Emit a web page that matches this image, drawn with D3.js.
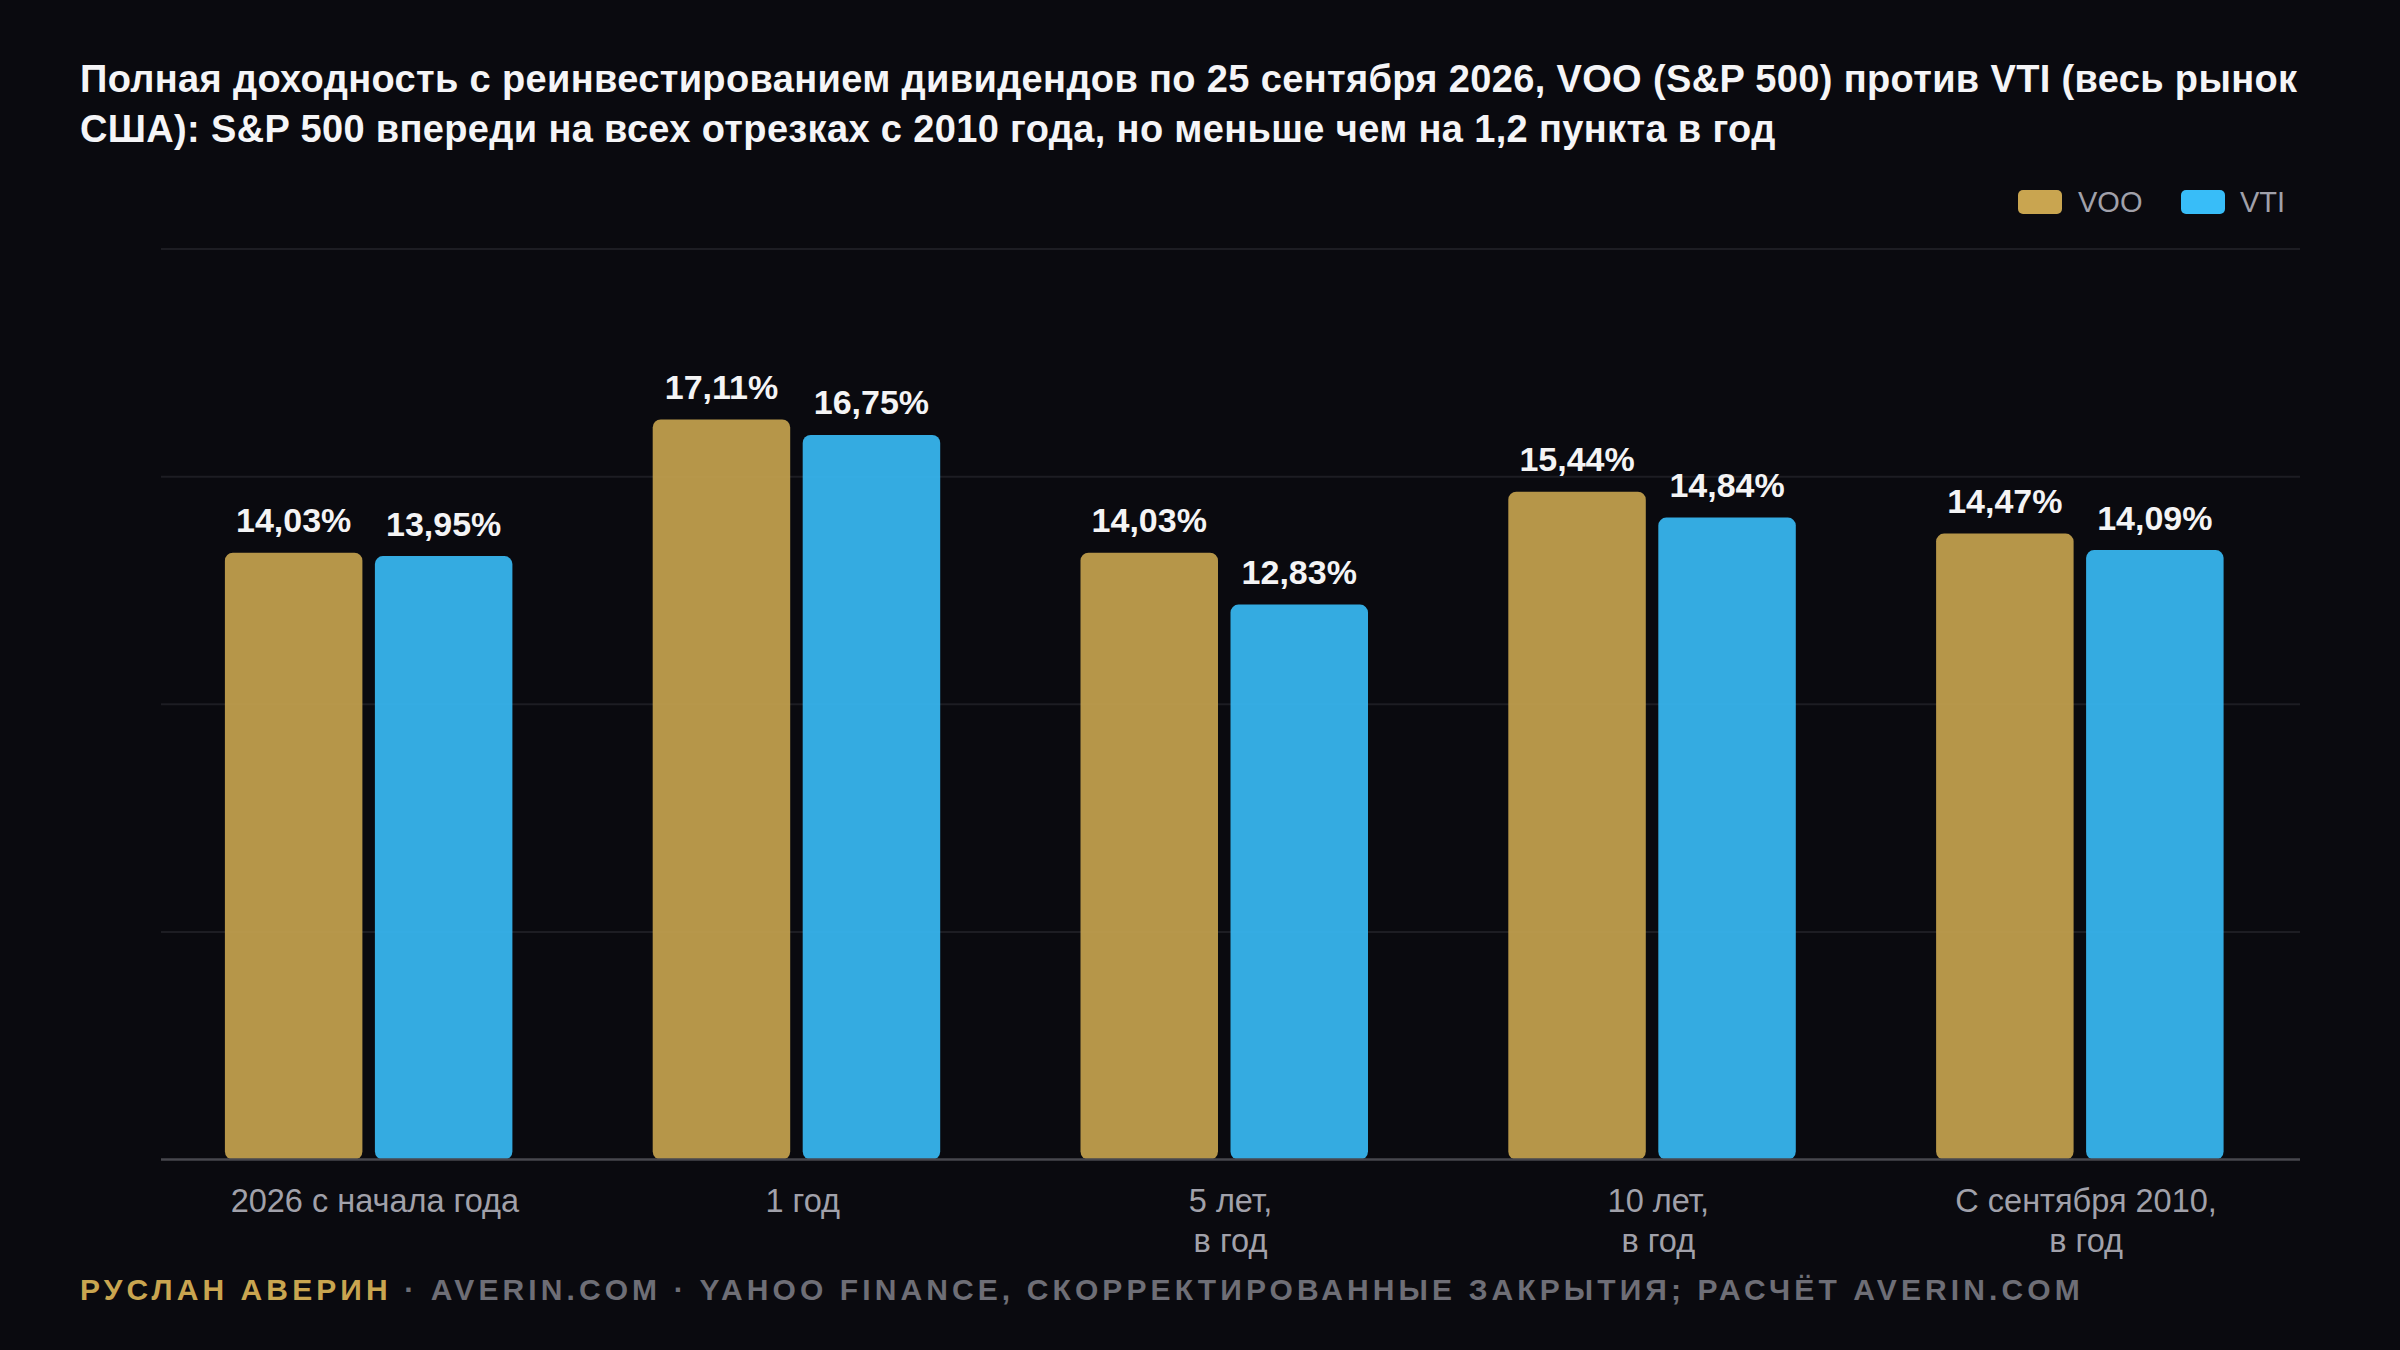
<!DOCTYPE html>
<html>
<head>
<meta charset="utf-8">
<script src="https://cdn.jsdelivr.net/npm/d3@7"></script>
<style>
  html, body { margin: 0; padding: 0; background: #0a0a0f; }
  svg { display: block; }
  text { font-family: "Liberation Sans", Arial, "Helvetica Neue", sans-serif; }
</style>
</head>
<body>
<svg id="chart" width="2400" height="1350"></svg>
<script>
// ---- data ----
const categories = ["2026 с начала года", "1 год", "5 лет,\nв год", "10 лет,\nв год", "С сентября 2010,\nв год"];
const seriesNames = ["VOO", "VTI"];
const vooValues = [14.03, 17.11, 14.03, 15.44, 14.47];
const vtiValues = [13.95, 16.75, 12.83, 14.84, 14.09];
const titleLines = [
  "Полная доходность с реинвестированием дивидендов по 25 сентября 2026, VOO (S&P 500) против VTI (весь рынок",
  "США): S&P 500 впереди на всех отрезках с 2010 года, но меньше чем на 1,2 пункта в год"
];
const footerAuthor = "РУСЛАН АВЕРИН";
const footerRest = " · AVERIN.COM · YAHOO FINANCE, СКОРРЕКТИРОВАННЫЕ ЗАКРЫТИЯ; РАСЧЁТ AVERIN.COM";
const yMax = 21.05;

// ---- styles ----
const colors = { VOO: "#c9a550", VTI: "#38bdf8" };
const W = 2400, H = 1350;
const plot = { left: 161, right: 2300, top: 249, bottom: 1159.5 };

const svg = d3.select("#chart");
svg.append("rect").attr("width", W).attr("height", H).attr("fill", "#0a0a0f");

const fmt = v => d3.format(".2f")(v).replace(".", ",") + "%";

const x0 = d3.scaleBand().domain(categories).range([plot.left, plot.right]);
const x1 = d3.scaleBand().domain(seriesNames).range([-150, 137.5]).paddingInner(0.0833).paddingOuter(0);
const y = d3.scaleLinear().domain([0, yMax]).range([plot.bottom, plot.top]);

// gridlines
const gridVals = d3.range(0, 5).map(i => yMax * i / 4);
svg.append("g").selectAll("line").data(gridVals.filter(v => v > 0)).join("line")
  .attr("x1", plot.left).attr("x2", plot.right)
  .attr("y1", d => y(d)).attr("y2", d => y(d))
  .attr("stroke", "#1d1d23").attr("stroke-width", 2);

// title
svg.append("g").selectAll("text").data(titleLines).join("text")
  .attr("x", 80).attr("y", (d, i) => 92 + i * 50)
  .attr("fill", "#f5f5f7").attr("font-size", 38).attr("font-weight", 700)
  .attr("letter-spacing", 0.35)
  .text(d => d);

// legend
const legendItems = [
  { name: "VOO", sx: 2018, tx: 2078 },
  { name: "VTI", sx: 2181, tx: 2240 }
];
const lg = svg.append("g");
legendItems.forEach(it => {
  lg.append("rect").attr("x", it.sx).attr("y", 190).attr("width", 44).attr("height", 24)
    .attr("rx", 5).attr("fill", colors[it.name]);
  lg.append("text").attr("x", it.tx).attr("y", 212).attr("font-size", 29)
    .attr("fill", "#a1a1aa").text(it.name);
});

// bars
const rows = categories.map((c, i) => ({ cat: c, VOO: vooValues[i], VTI: vtiValues[i] }));
const groups = svg.append("g").selectAll("g").data(rows).join("g")
  .attr("transform", d => `translate(${x0(d.cat) + x0.bandwidth() / 2},0)`);

groups.selectAll("rect").data(d => seriesNames.map(s => ({ s, v: d[s] }))).join("rect")
  .attr("x", d => x1(d.s))
  .attr("width", x1.bandwidth())
  .attr("y", d => y(d.v))
  .attr("height", d => y(0) - y(d.v))
  .attr("rx", 8)
  .attr("fill", d => colors[d.s])
  .attr("fill-opacity", 0.9);

groups.selectAll("text.val").data(d => seriesNames.map(s => ({ s, v: d[s] }))).join("text")
  .attr("class", "val")
  .attr("x", d => x1(d.s) + x1.bandwidth() / 2)
  .attr("y", d => y(d.v) - 20.5)
  .attr("text-anchor", "middle")
  .attr("font-size", 34).attr("font-weight", 700)
  .attr("fill", "#f4f4f5")
  .text(d => fmt(d.v));

// axis line
svg.append("line").attr("x1", plot.left).attr("x2", plot.right)
  .attr("y1", plot.bottom).attr("y2", plot.bottom)
  .attr("stroke", "#47474e").attr("stroke-width", 2.5);

// x labels
const xl = svg.append("g").selectAll("text").data(categories).join("text")
  .attr("x", d => x0(d) + x0.bandwidth() / 2)
  .attr("y", 1212)
  .attr("text-anchor", "middle")
  .attr("font-size", 32.5)
  .attr("fill", "#a1a1aa");
xl.each(function(d) {
  const t = d3.select(this);
  d.split("\n").forEach((line, i) => {
    t.append("tspan").attr("x", x0(d) + x0.bandwidth() / 2).attr("dy", i === 0 ? 0 : 40).text(line);
  });
});

// footer
const ft = svg.append("text").attr("x", 80).attr("y", 1300)
  .attr("font-size", 30).attr("font-weight", 700).attr("letter-spacing", 4.1);
ft.append("tspan").attr("fill", "#c9a550").text(footerAuthor);
ft.append("tspan").attr("fill", "#6e6e76").text(footerRest);
</script>
</body>
</html>
